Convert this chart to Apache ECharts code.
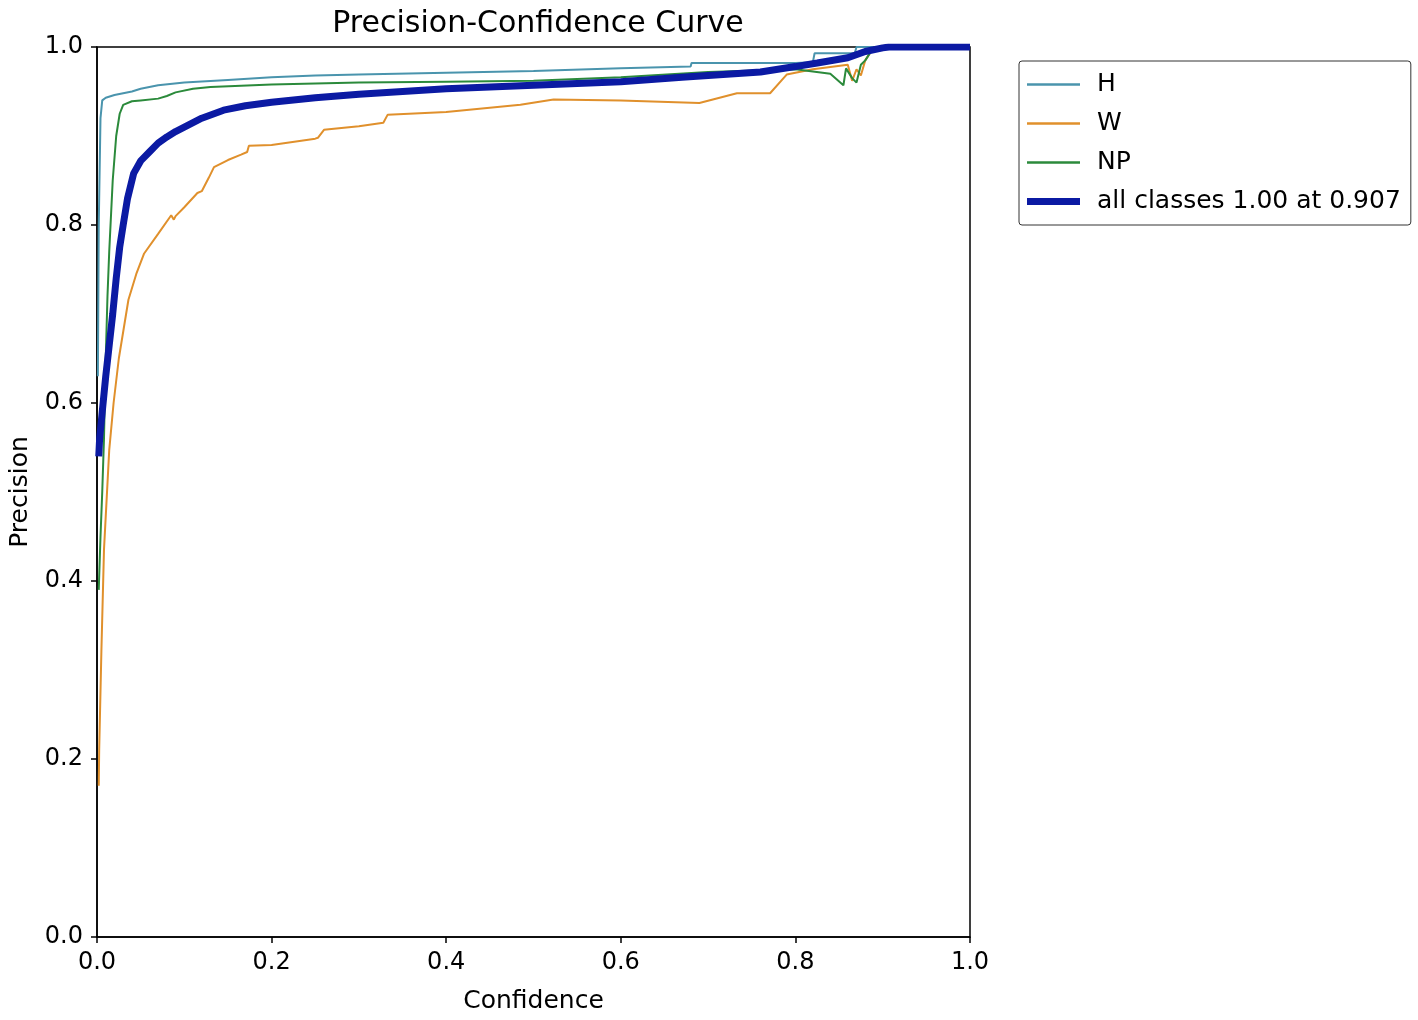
<!DOCTYPE html>
<html lang="en">
<head>
    <meta charset="utf-8">
    <title>Precision-Confidence Curve</title>
    <script src="https://cdn.jsdelivr.net/npm/echarts@6/dist/echarts.min.js"></script>
    <style>
        html, body { margin: 0; padding: 0; background: #fff; }
        #pc-chart { width: 1418px; height: 1020px; }
    </style>
</head>
<body>
<div id="pc-chart"></div>
<script type="text/javascript">
    // values
    var axisTicks = [0.0, 0.2, 0.4, 0.6, 0.8, 1.0];

    var hX = [0.001, 0.002, 0.004, 0.006, 0.01, 0.02, 0.03, 0.04, 0.05, 0.07, 0.1, 0.15, 0.2, 0.25, 0.3, 0.4, 0.5, 0.6, 0.68, 0.681, 0.75, 0.8, 0.82, 0.822, 0.868, 0.87, 1.0];
    var hY = [0.63, 0.8, 0.92, 0.94, 0.943, 0.946, 0.948, 0.95, 0.953, 0.957, 0.96, 0.963, 0.966, 0.968, 0.969, 0.971, 0.973, 0.976, 0.978, 0.982, 0.982, 0.982, 0.983, 0.993, 0.993, 1.0, 1.0];

    var wX = [0.002, 0.0025, 0.005, 0.008, 0.014, 0.019, 0.025, 0.036, 0.045, 0.054, 0.07, 0.085, 0.088, 0.09, 0.1, 0.115, 0.12, 0.128, 0.134, 0.15, 0.165, 0.172, 0.174, 0.2, 0.25, 0.253, 0.26, 0.3, 0.328, 0.333, 0.4, 0.485, 0.523, 0.6, 0.69, 0.733, 0.771, 0.79, 0.82, 0.86, 0.865, 0.87, 0.875, 0.88, 0.89, 1.0];
    var wY = [0.17, 0.21, 0.32, 0.435, 0.547, 0.6, 0.65, 0.716, 0.745, 0.768, 0.79, 0.811, 0.806, 0.81, 0.82, 0.836, 0.838, 0.853, 0.865, 0.873, 0.879, 0.882, 0.889, 0.89, 0.897, 0.898, 0.907, 0.911, 0.915, 0.924, 0.927, 0.935, 0.941, 0.94, 0.937, 0.948, 0.948, 0.969, 0.975, 0.98, 0.962, 0.975, 0.968, 0.985, 1.0, 1.0];

    var npX = [0.002, 0.004, 0.006, 0.008, 0.01, 0.012, 0.014, 0.018, 0.022, 0.026, 0.03, 0.04, 0.05, 0.07, 0.08, 0.09, 0.11, 0.13, 0.2, 0.3, 0.4, 0.5, 0.6, 0.7, 0.8, 0.84, 0.855, 0.858, 0.865, 0.87, 0.875, 0.88, 0.89, 1.0];
    var npY = [0.39, 0.45, 0.5, 0.56, 0.65, 0.72, 0.77, 0.85, 0.9, 0.925, 0.935, 0.939, 0.94, 0.942, 0.945, 0.949, 0.953, 0.955, 0.958, 0.96, 0.961, 0.962, 0.966, 0.972, 0.975, 0.97, 0.957, 0.976, 0.965, 0.96, 0.98, 0.985, 1.0, 1.0];

    var allX = [0.002, 0.003, 0.006, 0.01, 0.014, 0.018, 0.022, 0.026, 0.03, 0.035, 0.042, 0.05, 0.06, 0.07, 0.08, 0.09, 0.1, 0.12, 0.145, 0.17, 0.2, 0.25, 0.3, 0.35, 0.4, 0.5, 0.6, 0.67, 0.76, 0.8, 0.825, 0.86, 0.88, 0.9, 0.907, 1.0];
    var allY = [0.54, 0.56, 0.59, 0.63, 0.665, 0.7, 0.74, 0.775, 0.8, 0.83, 0.858, 0.872, 0.882, 0.892, 0.899, 0.905, 0.91, 0.92, 0.929, 0.934, 0.938, 0.943, 0.947, 0.95, 0.953, 0.957, 0.961, 0.966, 0.972, 0.978, 0.982, 0.988, 0.995, 0.999, 1.0, 1.0];

    var legendNames = ['H', 'W', 'NP', 'all classes 1.00 at 0.907'];
    var lineColors = ['#4a94ad', '#e0902c', '#2b8a3b', '#0b1aa3'];
    var lineWidths = [2, 2, 2, 7];

    function zip(xs, ys) {
        var out = [];
        for (var i = 0; i < xs.length; i++) {
            out.push([xs[i], ys[i]]);
        }
        return out;
    }

    var font = 'DejaVu Sans';

    function axis(name, gap) {
        return {
            type: 'value',
            min: axisTicks[0],
            max: axisTicks[axisTicks.length - 1],
            interval: 0.2,
            name: name,
            nameLocation: 'middle',
            nameGap: gap,
            nameTextStyle: {fontFamily: font, fontSize: 25, color: '#000'},
            axisLine: {show: true, lineStyle: {color: '#000', width: 1.5}},
            axisTick: {show: true, length: 6, lineStyle: {color: '#000', width: 1.5}},
            axisLabel: {
                fontFamily: font, fontSize: 24, color: '#000', margin: 14,
                formatter: function (v) { return v.toFixed(1); }
            },
            splitLine: {show: false}
        };
    }

    function curve(i, data) {
        return {
            name: legendNames[i],
            type: 'line',
            data: data,
            symbol: 'none',
            lineStyle: {color: lineColors[i], width: lineWidths[i]},
            itemStyle: {color: lineColors[i]},
            z: lineWidths[i] > 3 ? 5 : 3
        };
    }

    function legendItem(i) {
        var h = lineWidths[i] > 3 ? 7 : 2.5;
        return {
            name: legendNames[i],
            icon: 'path://M0,0H53V' + h + 'H0Z',
            itemStyle: {color: lineColors[i]}
        };
    }

    var myChart = echarts.init(document.getElementById('pc-chart'));

    myChart.setOption({
        animation: false,
        title: {
            text: 'Precision-Confidence Curve',
            left: 533,
            top: 4,
            textAlign: 'center',
            textStyle: {fontFamily: font, fontSize: 30, fontWeight: 'normal', color: '#000'}
        },
        grid: {
            left: 96,
            top: 47,
            width: 874,
            height: 890,
            show: true,
            borderColor: '#000',
            borderWidth: 1.5,
            containLabel: false
        },
        legend: {
            orient: 'vertical',
            left: 1019,
            top: 61,
            itemWidth: 53,
            itemHeight: 14,
            itemGap: 14,
            padding: [11, 10, 11, 8],
            borderColor: '#333',
            borderWidth: 1,
            borderRadius: 3,
            textStyle: {fontFamily: font, fontSize: 25, color: '#000', padding: [0, 0, 0, 12]},
            data: [legendItem(0), legendItem(1), legendItem(2), legendItem(3)]
        },
        xAxis: axis('Confidence', 52),
        yAxis: axis('Precision', 64),
        series: [
            curve(0, zip(hX, hY)),
            curve(1, zip(wX, wY)),
            curve(2, zip(npX, npY)),
            curve(3, zip(allX, allY))
        ]
    });
</script>
</body>
</html>
